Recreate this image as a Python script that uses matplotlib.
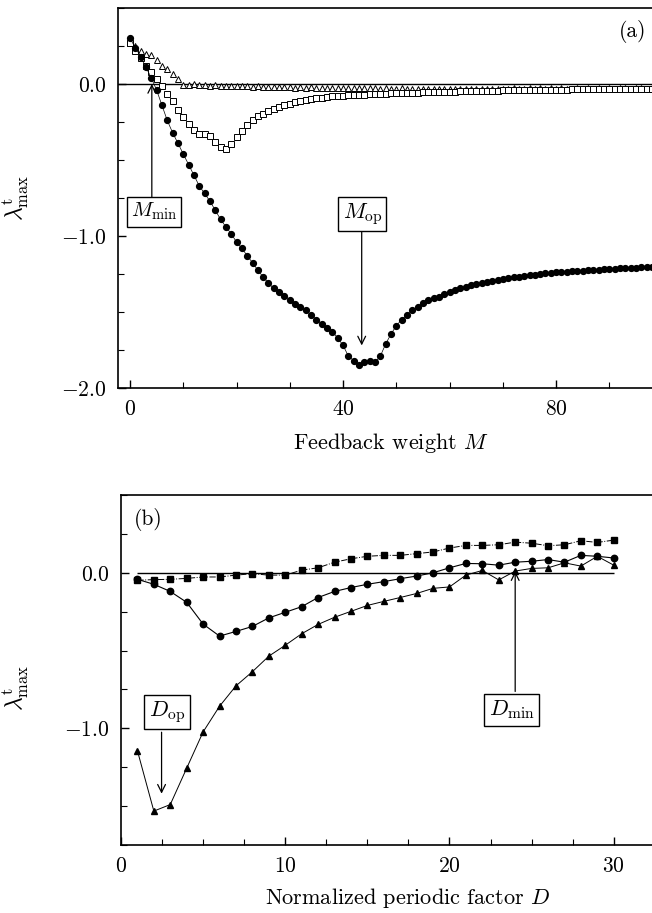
import numpy as np
import matplotlib
matplotlib.use('Agg')
import matplotlib.pyplot as plt

plt.rcParams['font.family'] = 'serif'
plt.rcParams['font.serif'] = ['cmr10', 'DejaVu Serif']
plt.rcParams['mathtext.fontset'] = 'cm'
plt.rcParams['axes.formatter.use_mathtext'] = True
plt.rcParams['axes.unicode_minus'] = False

# ---- panel (a): feedback weight M = 0..98 ----
M = np.arange(99)
lam_circ = [0.30, 0.24, 0.18, 0.11, 0.04, -0.04, -0.14, -0.24, -0.32, -0.39,
            -0.46, -0.53, -0.60, -0.67, -0.72, -0.77, -0.83, -0.89, -0.94, -0.985,
            -1.04, -1.08, -1.13, -1.175, -1.225, -1.27, -1.31, -1.345, -1.37, -1.395,
            -1.42, -1.445, -1.47, -1.49, -1.52, -1.55, -1.58, -1.605, -1.63, -1.67,
            -1.72, -1.79, -1.82, -1.85, -1.83, -1.82, -1.83, -1.79, -1.71, -1.645,
            -1.59, -1.55, -1.52, -1.49, -1.47, -1.44, -1.42, -1.41, -1.40, -1.38,
            -1.37, -1.355, -1.345, -1.335, -1.325, -1.315, -1.31, -1.30, -1.295, -1.29,
            -1.283, -1.278, -1.272, -1.267, -1.262, -1.258, -1.254, -1.25, -1.246, -1.243,
            -1.24, -1.237, -1.234, -1.231, -1.229, -1.227, -1.225, -1.223, -1.221, -1.219,
            -1.217, -1.215, -1.213, -1.212, -1.21, -1.208, -1.206, -1.204, -1.202]
lam_sq = [0.27, 0.22, 0.17, 0.12, 0.08, 0.035, -0.015, -0.065, -0.115, -0.17,
          -0.22, -0.26, -0.30, -0.33, -0.33, -0.34, -0.38, -0.415, -0.43, -0.395,
          -0.35, -0.31, -0.27, -0.235, -0.21, -0.195, -0.18, -0.165, -0.152, -0.138,
          -0.13, -0.12, -0.115, -0.108, -0.10, -0.093, -0.09, -0.087, -0.082, -0.08,
          -0.077, -0.075, -0.073, -0.071, -0.07, -0.067, -0.066, -0.065, -0.063, -0.062,
          -0.06, -0.059, -0.058, -0.057, -0.056, -0.055, -0.054, -0.053, -0.052, -0.051,
          -0.05, -0.05, -0.049, -0.048, -0.047, -0.046, -0.046, -0.045, -0.044, -0.043,
          -0.042, -0.042, -0.041, -0.041, -0.04, -0.04, -0.039, -0.039, -0.038, -0.038,
          -0.038, -0.037, -0.037, -0.036, -0.036, -0.036, -0.035, -0.035, -0.035, -0.035,
          -0.034, -0.034, -0.034, -0.034, -0.033, -0.033, -0.033, -0.033, -0.033]
lam_tri = [0.27, 0.25, 0.22, 0.20, 0.19, 0.16, 0.12, 0.10, 0.066, 0.033,
           -0.008, -0.004, -0.002, -0.006, -0.004, -0.01, -0.008, -0.012, -0.01, -0.014,
           -0.012, -0.016, -0.014, -0.018, -0.016, -0.02, -0.018, -0.02, -0.022, -0.02,
           -0.022, -0.024, -0.022, -0.025, -0.023, -0.026, -0.024, -0.026, -0.027, -0.025,
           -0.027, -0.028, -0.026, -0.028, -0.029, -0.027, -0.029, -0.03, -0.028, -0.03,
           -0.03, -0.029, -0.031, -0.03, -0.031, -0.03, -0.032, -0.031, -0.03, -0.031,
           -0.03, -0.031, -0.03, -0.031, -0.03, -0.03, -0.031, -0.03, -0.03, -0.031,
           -0.03, -0.03, -0.029, -0.03, -0.03, -0.029, -0.03, -0.029, -0.03, -0.029,
           -0.03, -0.029, -0.03, -0.03, -0.029, -0.03, -0.029, -0.03, -0.029, -0.03,
           -0.029, -0.03, -0.029, -0.029, -0.03, -0.029, -0.029, -0.03, -0.029]

# ---- panel (b): normalized periodic factor D = 1..30 ----
D = np.arange(1, 31)
lamD_sq = [-0.048, -0.044, -0.042, -0.036, -0.027, -0.027, -0.015, -0.006, -0.015, -0.015,
           0.017, 0.032, 0.068, 0.09, 0.106, 0.112, 0.112, 0.123, 0.134, 0.159,
           0.176, 0.176, 0.18, 0.197, 0.19, 0.174, 0.18, 0.206, 0.195, 0.21]
lamD_circ = [-0.042, -0.074, -0.12, -0.19, -0.33, -0.407, -0.377, -0.345, -0.29, -0.254,
             -0.218, -0.159, -0.12, -0.095, -0.074, -0.057, -0.038, -0.021, 0.0, 0.032,
             0.06, 0.058, 0.049, 0.068, 0.074, 0.085, 0.068, 0.112, 0.106, 0.095]
lamD_tri = [-1.144, -1.532, -1.49, -1.256, -1.023, -0.858, -0.727, -0.636, -0.536, -0.466,
            -0.392, -0.332, -0.286, -0.248, -0.21, -0.184, -0.159, -0.133, -0.10, -0.091,
            -0.015, 0.015, -0.046, 0.011, 0.028, 0.032, 0.064, 0.043, 0.106, 0.049]

ylab = r'$\lambda^{\rm t}_{\rm max}$'
fs = 15.5
box = dict(boxstyle='square,pad=0.2', fc='white', ec='black', lw=1.0)
arr = dict(arrowstyle='->', lw=0.9, color='black', shrinkA=0, shrinkB=0,
           mutation_scale=14)


def style_axis(ax):
    for s in ax.spines.values():
        s.set_linewidth(1.2)
    ax.tick_params(which='both', direction='in', top=False, right=False,
                   labelsize=fs, pad=8)
    ax.tick_params(which='major', length=6, width=1.0)
    ax.tick_params(which='minor', length=4, width=0.8)


fig = plt.figure(figsize=(6.52, 9.13), dpi=100)

# panel (a)
ax1 = fig.add_axes([118 / 652, 1 - 388 / 913, 550 / 652, 380 / 913])
ax1.axhline(0, color='black', lw=1.0, zorder=1)
ax1.plot(M, lam_tri, ls='none', marker='^', ms=4.2, mfc='white', mec='black',
         mew=0.7, zorder=2)
ax1.plot(M, lam_sq, ls='none', marker='s', ms=3.8, mfc='white', mec='black',
         mew=0.7, zorder=3)
ax1.plot(M, lam_circ, ls='-', lw=0.5, color='black', marker='o', ms=4.2,
         mfc='black', mec='black', zorder=4)
ax1.set_xlim(-2.25, 101)
ax1.set_ylim(-2.0, 0.5)
ax1.set_xticks([0, 40, 80])
ax1.set_xticks(np.arange(0, 101, 10), minor=True)
ax1.set_yticks([-2.0, -1.0, 0.0])
ax1.set_yticklabels([r'$-2.0$', r'$-1.0$', r'$0.0$'])
ax1.set_xticklabels([r'$0$', r'$40$', r'$80$'])
ax1.set_yticks(np.arange(-2.0, 0.51, 0.25), minor=True)
style_axis(ax1)
ax1.set_xlabel(r'Feedback weight $M$', fontsize=16)
ax1.xaxis.set_label_coords(0.496, -0.112)
ax1.set_ylabel(ylab, fontsize=17)
ax1.yaxis.set_label_coords(-0.158, 0.5)
ax1.text(0.936, 0.937, '(a)', transform=ax1.transAxes, ha='center',
         va='center', fontsize=fs)
ax1.annotate('', xy=(4.1, 0.0), xytext=(4.1, -0.757), arrowprops=arr)
ax1.text(4.5, -0.84, r'$M_{\rm min}$', ha='center', va='center', fontsize=15,
         bbox=box)
ax1.annotate('', xy=(43.5, -1.72), xytext=(43.5, -0.954), arrowprops=arr)
ax1.text(43.6, -0.855, r'$M_{\rm op}$', ha='center', va='center', fontsize=16,
         bbox=box)

# panel (b)
ax2 = fig.add_axes([121 / 652, 1 - 845 / 913, 542 / 652, 350 / 913])
ax2.hlines(0, D[0], D[-1], color='black', lw=1.0, zorder=1)
ax2.plot(D, lamD_sq, ls='-.', lw=0.7, color='black', marker='s', ms=4.0,
         zorder=2)
ax2.plot(D, lamD_circ, ls='-', lw=0.8, color='black', marker='o', ms=4.6,
         zorder=3)
ax2.plot(D, lamD_tri, ls='-', lw=0.7, color='black', marker='^', ms=4.6,
         zorder=4)
ax2.set_xlim(0, 33)
ax2.set_ylim(-1.75, 0.5)
ax2.set_xticks([0, 10, 20, 30])
ax2.set_xticklabels([r'$0$', r'$10$', r'$20$', r'$30$'])
ax2.set_xticks(np.arange(0, 33, 2.5), minor=True)
ax2.set_yticks([-1.0, 0.0])
ax2.set_yticklabels([r'$-1.0$', r'$0.0$'])
ax2.set_yticks(np.arange(-1.75, 0.51, 0.25), minor=True)
style_axis(ax2)
ax2.set_xlabel(r'Normalized periodic factor $D$', fontsize=16)
ax2.xaxis.set_label_coords(0.528, -0.118)
ax2.set_ylabel(ylab, fontsize=17)
ax2.yaxis.set_label_coords(-0.166, 0.45)
ax2.text(0.05, 0.929, '(b)', transform=ax2.transAxes, ha='center',
         va='center', fontsize=fs)
ax2.annotate('', xy=(2.47, -1.42), xytext=(2.47, -1.025), arrowprops=arr)
ax2.text(2.8, -0.895, r'$D_{\rm op}$', ha='center', va='center', fontsize=16,
         bbox=box)
ax2.annotate('', xy=(24.0, 0.01), xytext=(24.0, -0.763), arrowprops=arr)
ax2.text(23.8, -0.882, r'$D_{\rm min}$', ha='center', va='center', fontsize=16,
         bbox=box)

fig.savefig('out.png', dpi=100)
